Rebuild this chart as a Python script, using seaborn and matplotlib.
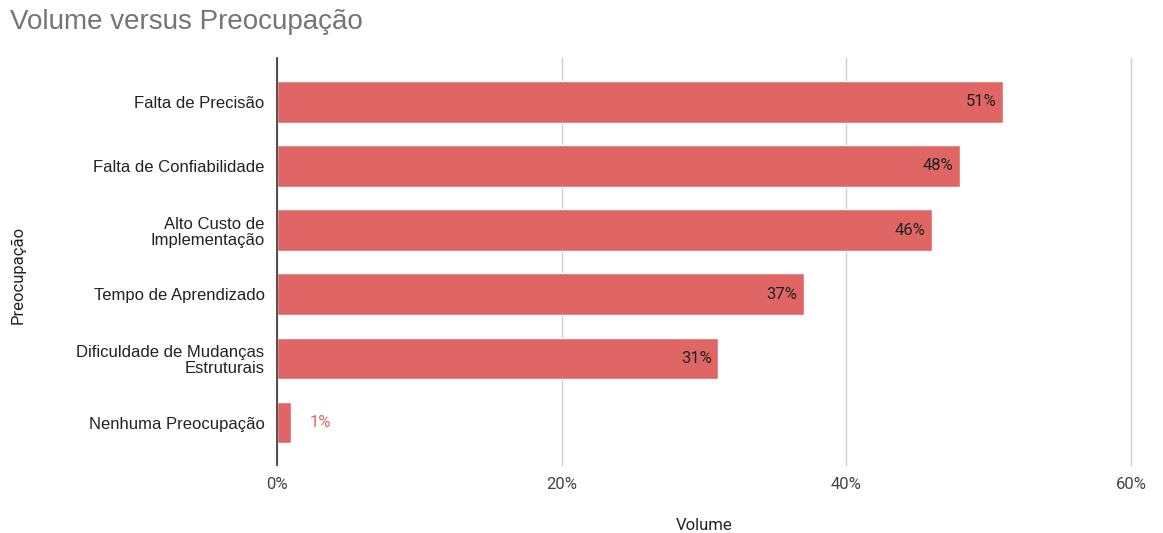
import matplotlib
matplotlib.use("Agg")
import matplotlib.pyplot as plt
import seaborn as sns
import pandas as pd
from matplotlib.ticker import FuncFormatter

categories = ["Falta de Precisão", "Falta de Confiabilidade", "Alto Custo de\nImplementação",
              "Tempo de Aprendizado", "Dificuldade de Mudanças\nEstruturais", "Nenhuma Preocupação"]
values = [51, 48, 46, 37, 31, 1]
ticks = [0, 20, 40, 60]

sns.set_theme(style="white")
plt.rcParams['font.family'] = ['Roboto', 'DejaVu Sans']

df = pd.DataFrame({"cat": categories, "val": values})
bar_color = "#E06666"

fig = plt.figure(figsize=(11.63, 5.33), dpi=100)
ax = fig.add_axes([0.2382, 0.1276, 0.7343, 0.7636])

sns.barplot(data=df, x="val", y="cat", orient="h", color=bar_color, width=0.65,
            saturation=1, ax=ax, zorder=3)

ax.set_xlim(0, 60)
ax.set_ylim(5.66, -0.68)
ax.set_xticks(ticks)
ax.xaxis.set_major_formatter(FuncFormatter(lambda v, p: f"{int(v)}%"))
ax.grid(axis="x", color="#cccccc", linewidth=1, zorder=0)
for gl in ax.get_xgridlines():
    gl.set_clip_on(False)
ax.set_axisbelow(True)
for s in ["top", "right", "bottom"]:
    ax.spines[s].set_visible(False)
ax.spines["left"].set_color("#333333")
ax.spines["left"].set_linewidth(1.2)
ax.spines["left"].set_zorder(5)
ax.tick_params(axis="both", length=0, labelsize=12, colors="#222222")
ax.tick_params(axis="x", pad=9, colors="#444444")
ax.tick_params(axis="y", pad=9)
for lbl in ax.get_yticklabels():
    lbl.set_family(["Liberation Sans", "DejaVu Sans"])
    lbl.set_fontsize(12)
    lbl.set_linespacing(1.1)

for i, v in enumerate(values):
    if v > 5:
        ax.text(v - 0.45, i, f"{v}%", ha="right", va="center", fontsize=12, color="#222222", zorder=6)
    else:
        ax.text(v + 1.3, i, f"{v}%", ha="left", va="center", fontsize=12, color=bar_color, zorder=6)

ax.set_xlabel("")
ax.set_ylabel("")
fig.text(704 / 1163, 1 - 525 / 533, "Volume", fontsize=12, color="#222222", ha="center", va="center")
fig.text(18 / 1163, 1 - 275 / 533, "Preocupação", fontsize=12, color="#222222", ha="center",
         va="center", rotation=90)
fig.text(0.009, 1 - 22 / 533, "Volume versus Preocupação", fontsize=20, color="#757575",
         family=["Liberation Sans", "DejaVu Sans"], va="center", ha="left")

fig.savefig("out.png", dpi=100)
